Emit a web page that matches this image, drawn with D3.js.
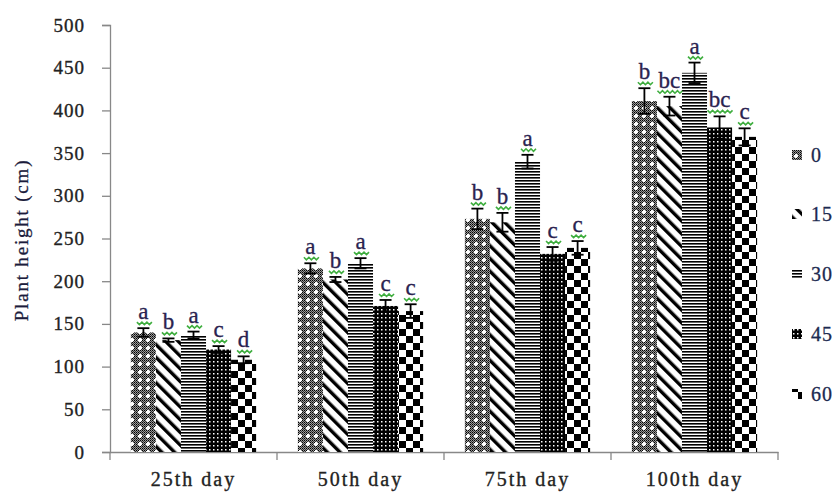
<!DOCTYPE html>
<html>
<head>
<meta charset="utf-8">
<script src="https://cdn.jsdelivr.net/npm/d3@7"></script>
<style>
  body { margin: 0; background: #fff; }
  text { font-family: "Liberation Serif", "Times New Roman", serif; }
</style>
</head>
<body>
<div id="chart"></div>
<script>
// data
const categories = ["25th day", "50th day", "75th day", "100th day"];
const doses = ["0", "15", "30", "45", "60"];
const yTicks = [0, 50, 100, 150, 200, 250, 300, 350, 400, 450, 500];

const means0  = [140, 215, 273, 411];
const means15 = [131, 202, 269, 405];
const means30 = [137, 221, 340, 444];
const means45 = [120, 171, 232, 380];
const means60 = [108, 165, 239, 369];

const err0  = [5, 6, 12, 15];
const err15 = [2, 3, 11, 11];
const err30 = [4, 6, 8, 12];
const err45 = [4, 7, 8, 13];
const err60 = [4, 8, 8, 10];

const letters0  = ["a", "a", "b", "b"];
const letters15 = ["b", "b", "b", "bc"];
const letters30 = ["a", "a", "a", "a"];
const letters45 = ["c", "c", "c", "bc"];
const letters60 = ["d", "c", "c", "c"];

const means = [means0, means15, means30, means45, means60];
const errs = [err0, err15, err30, err45, err60];
const letters = [letters0, letters15, letters30, letters45, letters60];

const width = 840, height = 499;
const margin = {top: 25, right: 62, bottom: 47, left: 110};

const svg = d3.select("#chart").append("svg")
  .attr("width", width)
  .attr("height", height);

// fill patterns (Excel style)
const defs = svg.append("defs");

// 0 : dotted grey with white crosses
let p = defs.append("pattern").attr("id", "pat0").attr("patternUnits", "userSpaceOnUse")
  .attr("width", 8).attr("height", 8);
p.append("rect").attr("width", 8).attr("height", 8).attr("fill", "#fff");
for (let i = 0; i < 8; i += 2)
  for (let j = 0; j < 8; j += 2)
    p.append("rect").attr("x", i).attr("y", j).attr("width", 1.4).attr("height", 1.4).attr("fill", "#000");
for (let i = 1; i < 8; i += 2)
  for (let j = 1; j < 8; j += 2)
    p.append("rect").attr("x", i).attr("y", j).attr("width", 1).attr("height", 1).attr("fill", "#333");
p.append("rect").attr("x", 3).attr("y", 2).attr("width", 2).attr("height", 4).attr("fill", "#fff");
p.append("rect").attr("x", 2).attr("y", 3).attr("width", 4).attr("height", 2).attr("fill", "#fff");

// 15 : wide downward diagonal
p = defs.append("pattern").attr("id", "pat15").attr("patternUnits", "userSpaceOnUse")
  .attr("width", 9).attr("height", 9).attr("patternTransform", "rotate(-45)");
p.append("rect").attr("width", 9).attr("height", 9).attr("fill", "#fff");
p.append("rect").attr("x", 0).attr("width", 3.4).attr("height", 9).attr("fill", "#000");

// 30 : dark horizontal
p = defs.append("pattern").attr("id", "pat30").attr("patternUnits", "userSpaceOnUse")
  .attr("width", 3).attr("height", 3);
p.append("rect").attr("width", 3).attr("height", 3).attr("fill", "#fff");
p.append("rect").attr("y", 0).attr("width", 3).attr("height", 1.6).attr("fill", "#000");

// 45 : small grid (black with white dots)
p = defs.append("pattern").attr("id", "pat45").attr("patternUnits", "userSpaceOnUse")
  .attr("width", 4).attr("height", 4);
p.append("rect").attr("width", 4).attr("height", 4).attr("fill", "#000");
p.append("rect").attr("x", 1).attr("y", 1).attr("width", 1.5).attr("height", 1.5).attr("fill", "#fff");

// 60 : large checkerboard
p = defs.append("pattern").attr("id", "pat60").attr("patternUnits", "userSpaceOnUse")
  .attr("width", 14).attr("height", 14);
p.append("rect").attr("width", 14).attr("height", 14).attr("fill", "#fff");
p.append("rect").attr("x", 0).attr("y", 0).attr("width", 7).attr("height", 7).attr("fill", "#000");
p.append("rect").attr("x", 7).attr("y", 7).attr("width", 7).attr("height", 7).attr("fill", "#000");

const patIds = ["pat0", "pat15", "pat30", "pat45", "pat60"];

// scales
const x0 = d3.scaleBand().domain(categories)
  .range([margin.left, width - margin.right]).padding(0);
const gap = x0.bandwidth() * 0.125;
const x1 = d3.scaleBand().domain(doses)
  .range([gap, x0.bandwidth() - gap]).padding(0);
const y = d3.scaleLinear().domain([0, 500]).range([height - margin.bottom, margin.top]);

// y axis
const yAxis = svg.append("g")
  .attr("transform", `translate(${margin.left},0)`)
  .call(d3.axisLeft(y).tickValues(yTicks).tickSize(8).tickPadding(17));
yAxis.select(".domain").attr("stroke", "#888").attr("stroke-width", 1.3);
yAxis.selectAll(".tick line").attr("stroke", "#888").attr("stroke-width", 1.3);
yAxis.selectAll(".tick text").attr("font-size", 19).attr("fill", "#222")
  .attr("stroke", "#222").attr("stroke-width", 0.35)
  .attr("font-family", "Liberation Serif").attr("letter-spacing", 1);

// x axis
const xAxis = svg.append("g")
  .attr("transform", `translate(0,${y(0)})`)
  .call(d3.axisBottom(x0).tickSize(0).tickPadding(20));
xAxis.select(".domain").attr("stroke", "#888").attr("stroke-width", 1.3);
xAxis.selectAll(".tick text").attr("font-size", 20).attr("fill", "#222")
  .attr("stroke", "#222").attr("stroke-width", 0.35)
  .attr("font-family", "Liberation Serif").attr("letter-spacing", 2);
// category separator ticks
const bounds = categories.map(c => x0(c)).concat([x0(categories[categories.length - 1]) + x0.bandwidth()]);
svg.append("g").selectAll("line").data(bounds).enter().append("line")
  .attr("x1", d => d).attr("x2", d => d)
  .attr("y1", y(0)).attr("y2", y(0) + 8)
  .attr("stroke", "#888").attr("stroke-width", 1.3);

// y title
svg.append("text")
  .attr("transform", `translate(28,240) rotate(-90)`)
  .attr("text-anchor", "middle")
  .attr("font-size", 19)
  .attr("letter-spacing", 1.8)
  .attr("fill", "#1c1c3c")
  .attr("stroke", "#1c1c3c").attr("stroke-width", 0.3)
  .text("Plant height (cm)");

// bars
const rows = [];
doses.forEach((d, s) => {
  categories.forEach((c, i) => {
    rows.push({dose: d, s: s, cat: c, v: means[s][i], e: errs[s][i], l: letters[s][i]});
  });
});

const bars = svg.append("g");
bars.selectAll("rect").data(rows).enter().append("rect")
  .attr("x", d => x0(d.cat) + x1(d.dose))
  .attr("y", d => y(d.v))
  .attr("width", x1.bandwidth())
  .attr("height", d => y(0) - y(d.v))
  .attr("fill", d => `url(#${patIds[d.s]})`);

// error bars
const eb = svg.append("g").attr("stroke", "#000").attr("stroke-width", 1.8);
rows.forEach(d => {
  const cx = x0(d.cat) + x1(d.dose) + x1.bandwidth() / 2;
  eb.append("line").attr("x1", cx).attr("x2", cx).attr("y1", y(d.v - d.e)).attr("y2", y(d.v + d.e));
  eb.append("line").attr("x1", cx - 6).attr("x2", cx + 6).attr("y1", y(d.v + d.e)).attr("y2", y(d.v + d.e));
  eb.append("line").attr("x1", cx - 6).attr("x2", cx + 6).attr("y1", y(d.v - d.e)).attr("y2", y(d.v - d.e));
});

// significance letters with green squiggle
const lg = svg.append("g");
rows.forEach(d => {
  const cx = x0(d.cat) + x1(d.dose) + x1.bandwidth() / 2;
  const base = y(d.v + d.e) - 9;
  lg.append("text")
    .attr("x", cx).attr("y", base)
    .attr("text-anchor", "middle")
    .attr("font-size", 23)
    .attr("fill", "#2a2350")
    .attr("stroke", "#2a2350").attr("stroke-width", 0.3)
    .text(d.l);
  const w = d.l.length * 11 + 2;
  let path = `M${cx - w / 2},${base + 3}`;
  for (let k = 0; k < w; k += 2.5) {
    path += ` L${cx - w / 2 + k + 2.5},${base + 3 + (Math.round(k / 2.5) % 2 === 0 ? 2.5 : 0)}`;
  }
  lg.append("path").attr("d", path).attr("fill", "none")
    .attr("stroke", "#3fae3f").attr("stroke-width", 1.6);
});

// legend
const legendY = [155, 214, 274, 334, 394];
const leg = svg.append("g");
doses.forEach((d, s) => {
  leg.append("rect")
    .attr("x", 792).attr("y", legendY[s] - 5)
    .attr("width", 10).attr("height", 10)
    .attr("fill", `url(#${patIds[s]})`);
  leg.append("text")
    .attr("x", 811).attr("y", legendY[s] + 7)
    .attr("font-size", 20)
    .attr("letter-spacing", 1)
    .attr("fill", "#1c2a50")
    .attr("stroke", "#1c2a50").attr("stroke-width", 0.3)
    .text(d);
});
</script>
</body>
</html>
